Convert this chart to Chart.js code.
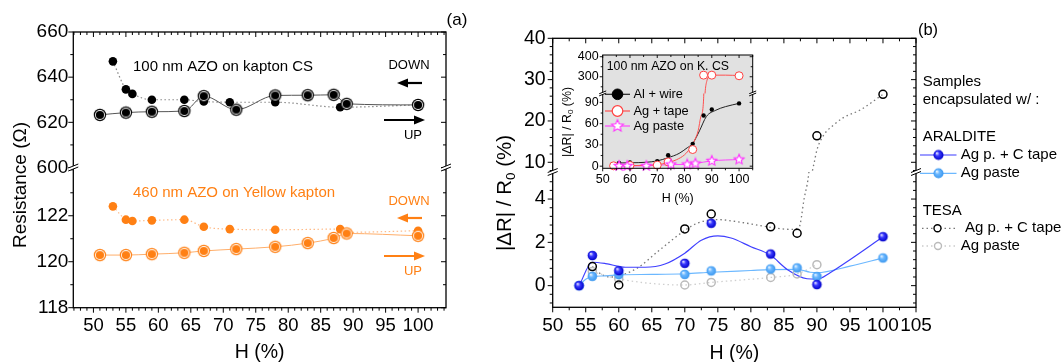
<!DOCTYPE html>
<html>
<head>
<meta charset="utf-8">
<script src="https://cdn.jsdelivr.net/npm/chart.js@4.4.0/dist/chart.umd.min.js"></script>
<style>
  body { margin: 0; background: #fff; width: 1063px; height: 362px; overflow: hidden; position: relative; }
  canvas { position: absolute; left: 0; top: 0; }
</style>
</head>
<body>
<canvas id="chartA" width="1063" height="362"></canvas>
<canvas id="chartB" width="1063" height="362"></canvas>
<canvas id="chartInset" width="1063" height="362"></canvas>
<script>
// ---------- panel (a): resistance vs humidity ----------
var hUpCS = [51, 55, 59, 64, 67, 72, 78, 83, 87, 89, 100];
var rUpCS = [623.3, 624.3, 624.7, 625.0, 631.6, 625.6, 631.9, 632.0, 632.2, 628.2, 627.7];
var hDownCS = [53, 55, 56, 59, 64, 67, 71, 78, 88, 100];
var rDownCS = [647.0, 634.6, 632.6, 630.0, 630.0, 629.2, 628.9, 628.9, 626.7, 627.7];
var hUpYellow = [51, 55, 59, 64, 67, 72, 78, 83, 87, 89, 100];
var rUpYellow = [120.29, 120.29, 120.33, 120.39, 120.47, 120.55, 120.65, 120.81, 121.03, 121.23, 121.13];
var hDownYellow = [53, 55, 56, 59, 64, 67, 71, 78, 88, 89, 100];
var rDownYellow = [122.41, 121.83, 121.77, 121.80, 121.83, 121.52, 121.42, 121.39, 121.42, 121.28, 121.35];
var aTicksX = [50, 55, 60, 65, 70, 75, 80, 85, 90, 95, 100];
var aTicksTop = [600, 620, 640, 660];
var aTicksBot = [118, 120, 122];

// ---------- panel (b): |dR|/R0 vs humidity ----------
var hAralTape = [54, 56, 60, 70, 74, 83, 90, 100];
var vAralTape = [0, 1.39, 0.69, 1.03, 2.88, 1.46, 0.05, 2.26];
var hAralPaste = [54, 56, 60, 70, 74, 83, 87, 90, 100];
var vAralPaste = [0, 0.43, 0.51, 0.52, 0.68, 0.77, 0.82, 0.42, 1.28];
var hTesaTape = [56, 60, 70, 74, 83, 87, 90, 100];
var vTesaTape = [0.88, 0.03, 2.62, 3.31, 2.72, 2.42, 16.4, 26.45];
var hTesaPaste = [56, 60, 70, 74, 83, 87, 90];
var vTesaPaste = [0.65, 0.31, 0.03, 0.15, 0.38, 0.54, 0.97];
// smoothed curves
var hAralTapeFit = [54, 56, 58, 61, 64, 67, 70, 72.5, 75, 77, 80, 83, 85.5, 88.5, 90, 92, 95, 100];
var vAralTapeFit = [0, 1.08, 1.02, 0.85, 0.85, 1.0, 1.5, 2.1, 2.3, 2.2, 1.8, 1.4, 0.75, 0.32, 0.3, 0.6, 1.2, 2.26];
var hAralPasteFit = [54, 55, 56, 58, 60, 65, 70, 74, 80, 83, 87, 89, 90, 95, 100];
var vAralPasteFit = [0, 0.3, 0.42, 0.45, 0.5, 0.52, 0.55, 0.62, 0.7, 0.74, 0.75, 0.62, 0.6, 0.9, 1.28];
var hTesaTapeFit = [56, 57.5, 59, 61, 63, 66, 70, 72, 75, 78, 81, 84, 86, 87.3, 88, 89, 89.6, 90, 91, 92.5, 94, 96.6, 100];
var vTesaTapeFit = [0.88, 0.5, 0.4, 0.55, 0.85, 1.6, 2.55, 2.9, 3.05, 2.95, 2.8, 2.65, 2.6, 2.7, 3.9, 6, 10, 13, 16.5, 19, 20.8, 22.7, 26.45];
var bTicksX = [50, 55, 60, 65, 70, 75, 80, 85, 90, 95, 100, 105];
var bTicksTop = [10, 20, 30, 40];
var bTicksBot = [0, 2, 4];

// ---------- inset: 100 nm AZO on K. CS ----------
var hAlWire = [56, 60, 70, 74, 83, 87, 90, 100];
var vAlWire = [4.7, 5.2, 7.1, 15.5, 31.5, 71.6, 80, 88.6];
var hAgTape = [54, 60, 70, 74, 83, 87, 90, 100];
var vAgTape = [0.5, 1, 1.5, 6, 23.5, 308, 308, 305];
var hAgPaste = [56, 59, 66, 75, 81, 84, 90, 100];
var vAgPaste = [0.4, 0.4, 0.4, 2.4, 2.4, 3.8, 7.5, 9.4];
var hAlWireFit = [56, 60, 66, 70, 74, 78, 81, 83, 85.5, 88, 91.5, 95, 100];
var vAlWireFit = [4.5, 4.8, 5.5, 7.5, 12, 18, 26, 32, 50, 70, 79, 84, 88.6];
var hAgTapeFit = [54, 60, 66, 70, 74, 77, 80, 82, 83.5, 85, 86, 87, 87.6, 88.2, 89, 90, 95, 100];
var vAgTapeFit = [0.3, 0.7, 1.3, 2.2, 5, 9, 16, 25, 35, 50, 70, 95, 230, 280, 302, 308, 308, 306];
var iTicksX = [50, 60, 70, 80, 90, 100];
var iTicksTop = [300, 400];
var iTicksBot = [0, 30, 60, 90];

var FONT = '"Liberation Sans", Arial, Helvetica, sans-serif';
var ORANGE = '#ff8014';

Chart.defaults.font.family = FONT;
Chart.defaults.color = '#000';
Chart.defaults.animation = false;
Chart.defaults.responsive = false;
Chart.defaults.plugins.legend.display = false;
Chart.defaults.plugins.tooltip.enabled = false;

function font(size) { return size + 'px ' + FONT; }

function pts(xs, ys) {
    return xs.map(function (x, i) { return { x: x, y: ys[i] }; });
}

// ---- marker images ----
function newMarker(r) {
    var c = document.createElement('canvas');
    var s = Math.ceil(2 * r + 3);
    c.width = s;
    c.height = s;
    return c;
}

function ringMarker(color, r) {
    var c = newMarker(r), g = c.getContext('2d'), m = c.width / 2;
    g.fillStyle = color;
    g.beginPath(); g.arc(m, m, r, 0, 2 * Math.PI); g.fill();
    g.fillStyle = '#fff';
    g.beginPath(); g.arc(m, m, r - 1.2, 0, 2 * Math.PI); g.fill();
    g.fillStyle = color;
    g.beginPath(); g.arc(m, m, r - 2.1, 0, 2 * Math.PI); g.fill();
    return c;
}

function sphereMarker(light, mid, dark, r) {
    var c = newMarker(r), g = c.getContext('2d'), m = c.width / 2;
    var grd = g.createRadialGradient(m - r * 0.35, m - r * 0.4, r * 0.05, m, m, r);
    grd.addColorStop(0, light);
    grd.addColorStop(0.4, mid);
    grd.addColorStop(1, dark);
    g.fillStyle = grd;
    g.beginPath(); g.arc(m, m, r, 0, 2 * Math.PI); g.fill();
    return c;
}

function starMarker(color, r) {
    var c = newMarker(r), g = c.getContext('2d'), m = c.width / 2;
    g.beginPath();
    for (var i = 0; i < 10; i++) {
        var rr = i % 2 === 0 ? r : r * 0.45;
        var a = -Math.PI / 2 + i * Math.PI / 5;
        g.lineTo(m + rr * Math.cos(a), m + rr * Math.sin(a));
    }
    g.closePath();
    g.fillStyle = '#fff';
    g.fill();
    g.strokeStyle = color;
    g.lineWidth = 1.1;
    g.stroke();
    return c;
}

var mkUpCS = ringMarker('#000', 6.2);
var mkUpYellow = ringMarker(ORANGE, 6.2);
var mkAralTape = sphereMarker('#eef', '#3a3aff', '#0000c8', 4.8);
var mkAralPaste = sphereMarker('#eef7ff', '#6cb8ff', '#3b97ee', 4.8);
var mkAralTapeLeg = sphereMarker('#eef', '#3a3aff', '#0000c8', 5);
var mkAralPasteLeg = sphereMarker('#eef7ff', '#6cb8ff', '#3b97ee', 5);
var mkStar = starMarker('#ff33ff', 5.2);
var mkStarLeg = starMarker('#ff33ff', 6.2);

// ---- shared drawing helpers ----
function stepValues(min, max, step) {
    var out = [];
    var n0 = Math.ceil(min / step - 1e-6), n1 = Math.floor(max / step + 1e-6);
    for (var n = n0; n <= n1; n++) {
        out.push(n * step);
    }
    return out;
}

// ticks out on bottom/left, mirrored inward on top/right
function drawTicks(ctx, area, scale, major, minor, bigLen, smallLen) {
    var horiz = scale.isHorizontal();
    stepValues(scale.min, scale.max, minor).forEach(function (v) {
        var isMajor = Math.abs(v / major - Math.round(v / major)) < 1e-6;
        var len = isMajor ? bigLen : smallLen;
        var p = scale.getPixelForValue(v);
        ctx.beginPath();
        if (horiz) {
            ctx.moveTo(p, area.bottom); ctx.lineTo(p, area.bottom + len);
            ctx.moveTo(p, area.top); ctx.lineTo(p, area.top + len);
        } else {
            ctx.moveTo(area.left - len, p); ctx.lineTo(area.left, p);
            ctx.moveTo(area.right - len, p); ctx.lineTo(area.right, p);
        }
        ctx.stroke();
    });
}

// the short inset axes lose labels in Chart.js, so their labels are written here
function axisLabels(ctx, scale) {
    var opts = scale.options.ticks;
    scale.ticks.forEach(function (t) {
        text(ctx, String(t.value), scale.right - opts.padding, scale.getPixelForValue(t.value), opts.font.size, '#000', 'right');
    });
}

function drawFrame(ctx, area, lw) {
    ctx.lineWidth = lw;
    ctx.strokeStyle = '#000';
    ctx.strokeRect(area.left, area.top, area.right - area.left, area.bottom - area.top);
}

function drawBreak(ctx, x, y, s) {
    ctx.save();
    ctx.fillStyle = '#fff';
    ctx.beginPath();
    ctx.moveTo(x - 5 * s, y + 0.5 * s);
    ctx.lineTo(x + 5 * s, y - 3.5 * s);
    ctx.lineTo(x + 5 * s, y - 0.5 * s);
    ctx.lineTo(x - 5 * s, y + 3.5 * s);
    ctx.closePath();
    ctx.fill();
    ctx.strokeStyle = '#000';
    ctx.lineWidth = 1;
    ctx.beginPath();
    ctx.moveTo(x - 5 * s, y + 0.5 * s); ctx.lineTo(x + 5 * s, y - 3.5 * s);
    ctx.moveTo(x - 5 * s, y + 3.5 * s); ctx.lineTo(x + 5 * s, y - 0.5 * s);
    ctx.stroke();
    ctx.restore();
}

function text(ctx, str, x, y, size, color, align) {
    ctx.font = font(size);
    ctx.fillStyle = color || '#000';
    ctx.textAlign = align || 'left';
    ctx.textBaseline = 'middle';
    ctx.fillText(str, x, y);
}

function vtext(ctx, str, x, y, size) {
    ctx.save();
    ctx.translate(x, y);
    ctx.rotate(-Math.PI / 2);
    text(ctx, str, 0, 0, size, '#000', 'center');
    ctx.restore();
}

// |dR| / R0 (%) with a subscript 0, rotated
function deltaTitle(ctx, x, y, size) {
    var a = '|\u0394R| / R', b = '0', c = ' (%)';
    ctx.save();
    ctx.translate(x, y);
    ctx.rotate(-Math.PI / 2);
    ctx.font = font(size);
    var wa = ctx.measureText(a).width, wc = ctx.measureText(c).width;
    ctx.font = font(size * 0.65);
    var wb = ctx.measureText(b).width;
    var x0 = -(wa + wb + wc) / 2;
    text(ctx, a, x0, 0, size);
    text(ctx, b, x0 + wa, size * 0.3, size * 0.65);
    text(ctx, c, x0 + wa + wb, 0, size);
    ctx.restore();
}

function arrow(ctx, x0, x1, y, color) {
    var dir = x1 > x0 ? 1 : -1;
    ctx.strokeStyle = color;
    ctx.fillStyle = color;
    ctx.lineWidth = 2.2;
    ctx.beginPath(); ctx.moveTo(x0, y); ctx.lineTo(x1 - dir * 8, y); ctx.stroke();
    ctx.beginPath();
    ctx.moveTo(x1, y);
    ctx.lineTo(x1 - dir * 11, y - 4.5);
    ctx.lineTo(x1 - dir * 11, y + 4.5);
    ctx.closePath();
    ctx.fill();
}

function legendLine(ctx, x0, x1, y, color, dash) {
    ctx.save();
    ctx.strokeStyle = color;
    ctx.lineWidth = dash ? 1.3 : 1.2;
    ctx.setLineDash(dash || []);
    ctx.beginPath(); ctx.moveTo(x0, y); ctx.lineTo(x1, y); ctx.stroke();
    ctx.restore();
}

function openCircle(ctx, x, y, r, color, lw, fill) {
    ctx.beginPath();
    ctx.arc(x, y, r, 0, 2 * Math.PI);
    if (fill) { ctx.fillStyle = fill; ctx.fill(); }
    ctx.strokeStyle = color;
    ctx.lineWidth = lw;
    ctx.stroke();
}

function image(ctx, img, x, y) {
    ctx.drawImage(img, x - img.width / 2, y - img.height / 2);
}

// every dataset is clipped to the band of its own (stacked) y axis
var bandClip = {
    id: 'bandClip',
    beforeDatasetDraw: function (chart, args) {
        var ys = chart.scales[chart.data.datasets[args.index].yAxisID];
        var a = chart.chartArea, ctx = chart.ctx;
        var top = ys.top <= a.top + 0.5 ? ys.top - 12 : ys.top;
        var bottom = ys.bottom >= a.bottom - 0.5 ? ys.bottom + 12 : ys.bottom;
        ctx.save();
        ctx.beginPath();
        ctx.rect(a.left - 12, top, a.right - a.left + 24, bottom - top);
        ctx.clip();
    },
    afterDatasetDraw: function (chart) {
        chart.ctx.restore();
    }
};

function fixTicks(list) {
    return function (scale) {
        scale.ticks = list.map(function (v) { return { value: v, label: String(v) }; });
    };
}

function plainLabel(value) { return String(value); }

function xAxis(min, max, list, size, pad, height) {
    return {
        type: 'linear', position: 'bottom', min: min, max: max,
        grid: { display: false, drawTicks: false },
        border: { display: false },
        ticks: { font: { size: size }, padding: pad, autoSkip: false, maxRotation: 0, callback: plainLabel },
        afterBuildTicks: fixTicks(list),
        afterFit: function (s) { s.height = height; }
    };
}

function yAxis(stack, weight, min, max, list, size, pad, width, color) {
    return {
        type: 'linear', position: 'left', stack: stack, stackWeight: weight, min: min, max: max,
        grid: { display: false, drawTicks: false },
        border: { display: false },
        ticks: { font: { size: size }, padding: pad, autoSkip: false, callback: plainLabel, color: color || '#000' },
        afterBuildTicks: fixTicks(list),
        afterFit: function (s) { s.width = width; }
    };
}

function lineSet(xs, ys, axis, color, width, dash, order) {
    return {
        data: pts(xs, ys), yAxisID: axis, showLine: true, clip: false,
        borderColor: color, borderWidth: width, borderDash: dash || [],
        pointRadius: 0, cubicInterpolationMode: 'monotone', order: order
    };
}

function pointSet(xs, ys, axis, style, order) {
    var ds = { data: pts(xs, ys), yAxisID: axis, showLine: false, clip: false, order: order };
    for (var k in style) { ds[k] = style[k]; }
    return ds;
}

// ================= panel (a) =================
var panelA = {
    id: 'panelA',
    afterDraw: function (chart) {
        var ctx = chart.ctx, a = chart.chartArea, s = chart.scales;
        ctx.save();
        drawFrame(ctx, a, 1.3);
        ctx.lineWidth = 1;
        drawTicks(ctx, a, s.x, 5, 1, 5, 3);
        drawTicks(ctx, a, s.yTop, 20, 10, 5, 3);
        drawTicks(ctx, a, s.yBot, 2, 1, 5, 3);
        drawBreak(ctx, a.left, s.yBot.top, 1);
        drawBreak(ctx, a.right, s.yBot.top, 1);

        text(ctx, '100 nm AZO on kapton CS', 133, 67, 15);
        text(ctx, 'DOWN', 409, 65, 13, '#000', 'center');
        arrow(ctx, 422, 397, 83, '#000');
        arrow(ctx, 384, 425, 120, '#000');
        text(ctx, 'UP', 413, 135, 13, '#000', 'center');

        text(ctx, '460 nm AZO on Yellow kapton', 133, 193, 15, ORANGE);
        text(ctx, 'DOWN', 409, 201, 13, ORANGE, 'center');
        arrow(ctx, 422, 397, 218, ORANGE);
        arrow(ctx, 384, 425, 256, ORANGE);
        text(ctx, 'UP', 413, 271, 13, ORANGE, 'center');

        text(ctx, '(a)', 457, 20, 17, '#000', 'center');
        text(ctx, 'H (%)', (a.left + a.right) / 2, 353, 19.5, '#000', 'center');
        vtext(ctx, 'Resistance (\u03A9)', 21, 185, 19);
        ctx.restore();
    }
};

new Chart(document.getElementById('chartA'), {
    type: 'scatter',
    data: {
        datasets: [
            lineSet(hUpCS, rUpCS, 'yTop', '#555', 1, null, 10),
            lineSet(hDownCS, rDownCS, 'yTop', '#888', 1.2, [1.5, 2.5], 11),
            pointSet(hUpCS, rUpCS, 'yTop', { pointStyle: mkUpCS }, 1),
            pointSet(hDownCS, rDownCS, 'yTop', { pointStyle: 'circle', pointRadius: 4.3, pointBorderWidth: 0, pointBackgroundColor: '#000' }, 2),
            lineSet(hUpYellow, rUpYellow, 'yBot', '#ffae6a', 1, null, 10),
            lineSet(hDownYellow, rDownYellow, 'yBot', '#ffbb88', 1.2, [1.5, 2.5], 11),
            pointSet(hUpYellow, rUpYellow, 'yBot', { pointStyle: mkUpYellow }, 1),
            pointSet(hDownYellow, rDownYellow, 'yBot', { pointStyle: 'circle', pointRadius: 4.3, pointBorderWidth: 0, pointBackgroundColor: ORANGE }, 2)
        ]
    },
    options: {
        layout: { padding: { left: 0, top: 32, right: 617, bottom: 0 } },
        scales: {
            x: xAxis(46.9, 104.3, aTicksX, 18.5, 7, 54.3),
            // in a stack the first axis listed sits at the bottom
            yBot: yAxis('a', 140.2, 118, 124.1, aTicksBot, 19, 5, 73.3),
            yTop: yAxis('a', 135.5, 600, 660, aTicksTop, 19, 5, 73.3)
        }
    },
    plugins: [bandClip, panelA]
});

// ================= panel (b) =================
var panelB = {
    id: 'panelB',
    afterDraw: function (chart) {
        var ctx = chart.ctx, a = chart.chartArea, s = chart.scales;
        ctx.save();
        drawFrame(ctx, a, 1.3);
        ctx.lineWidth = 1;
        drawTicks(ctx, a, s.x, 5, 2.5, 5, 3);
        drawTicks(ctx, a, s.yTop, 10, 2, 5, 3);
        drawTicks(ctx, a, s.yBot, 2, 0.4, 5, 3);
        drawBreak(ctx, a.left, s.yBot.top, 1);
        drawBreak(ctx, a.right, s.yBot.top, 1);

        text(ctx, '(b)', 928, 30, 16.5, '#000', 'center');
        text(ctx, 'H (%)', (a.left + a.right) / 2, 354, 19.5, '#000', 'center');
        deltaTitle(ctx, 505, 193, 20.5);

        // legend
        var lx = 922.7;
        text(ctx, 'Samples', lx, 82, 15);
        text(ctx, 'encapsulated w/ :', lx, 100, 15);
        text(ctx, 'ARALDITE', lx, 137, 15);
        legendLine(ctx, 920, 956.5, 155, '#3a3aff');
        image(ctx, mkAralTapeLeg, 938.5, 155);
        text(ctx, 'Ag p. + C tape', 960.7, 155, 15);
        legendLine(ctx, 920, 956.5, 173.3, '#6cb8ff');
        image(ctx, mkAralPasteLeg, 938.5, 173.3);
        text(ctx, 'Ag paste', 960.7, 173.3, 15);
        text(ctx, 'TESA', lx, 210.7, 15);
        legendLine(ctx, 922, 955, 228.3, '#777', [1.5, 3]);
        openCircle(ctx, 937.5, 228.3, 3.5, '#000', 1.4, '#fff');
        text(ctx, 'Ag p. + C tape', 965, 228.3, 15);
        legendLine(ctx, 922, 955, 246, '#ccc', [1.5, 3]);
        openCircle(ctx, 938, 246, 3.5, '#bbb', 1.4, '#fff');
        text(ctx, 'Ag paste', 960.7, 246, 15);
        ctx.restore();
    }
};

var tesaTapeStyle = { pointStyle: 'circle', pointRadius: 4, pointBorderWidth: 1.5, pointBorderColor: '#000', pointBackgroundColor: 'rgba(255,255,255,0)' };

new Chart(document.getElementById('chartB'), {
    type: 'scatter',
    data: {
        datasets: [
            lineSet(hTesaPaste, vTesaPaste, 'yBot', '#cfcfcf', 1.3, [1.5, 3], 14),
            lineSet(hTesaTapeFit, vTesaTapeFit, 'yBot', '#777', 1.3, [1.5, 3], 13),
            lineSet(hTesaTapeFit, vTesaTapeFit, 'yTop', '#777', 1.3, [1.5, 3], 13),
            lineSet(hAralPasteFit, vAralPasteFit, 'yBot', '#6cb8ff', 1.2, null, 12),
            lineSet(hAralTapeFit, vAralTapeFit, 'yBot', '#4040ff', 1.2, null, 11),
            pointSet(hTesaPaste, vTesaPaste, 'yBot', { pointStyle: 'circle', pointRadius: 4, pointBorderWidth: 1.5, pointBorderColor: '#bbb', pointBackgroundColor: 'rgba(255,255,255,0)' }, 5),
            pointSet(hTesaTape, vTesaTape, 'yBot', tesaTapeStyle, 4),
            pointSet(hTesaTape, vTesaTape, 'yTop', tesaTapeStyle, 4),
            pointSet(hAralPaste, vAralPaste, 'yBot', { pointStyle: mkAralPaste }, 2),
            pointSet(hAralTape, vAralTape, 'yBot', { pointStyle: mkAralTape }, 1)
        ]
    },
    options: {
        layout: { padding: { left: 480, top: 38.3, right: 147, bottom: 0 } },
        scales: {
            x: xAxis(50, 105, bTicksX, 19, 7, 54.7),
            yBot: yAxis('b', 135.3, -1, 5.25, bTicksBot, 19.5, 7, 72.7),
            yTop: yAxis('b', 133.7, 7.65, 40, bTicksTop, 19.5, 7, 72.7)
        }
    },
    plugins: [bandClip, panelB]
});

// ================= inset =================
var inset = {
    id: 'inset',
    beforeDatasetsDraw: function (chart) {
        var ctx = chart.ctx, a = chart.chartArea;
        ctx.save();
        ctx.fillStyle = '#e1e1e1';
        ctx.fillRect(a.left, a.top, a.right - a.left, a.bottom - a.top);
        ctx.restore();
    },
    afterDraw: function (chart) {
        var ctx = chart.ctx, a = chart.chartArea, s = chart.scales;
        ctx.save();
        drawFrame(ctx, a, 1);
        ctx.lineWidth = 0.9;
        drawTicks(ctx, a, s.x, 10, 5, 3, 2);
        drawTicks(ctx, a, s.yTop, 100, 50, 3, 2);
        drawTicks(ctx, a, s.yBot, 30, 15, 3, 2);
        drawBreak(ctx, a.left, s.yBot.top, 0.7);
        drawBreak(ctx, a.right, s.yBot.top, 0.7);
        axisLabels(ctx, s.yBot);
        axisLabels(ctx, s.yTop);

        text(ctx, '100 nm AZO on K. CS', 606.7, 67, 12.3);
        legendLine(ctx, 605, 630, 94.3, '#222');
        openCircle(ctx, 617.5, 94.3, 5.3, '#000', 1, '#000');
        text(ctx, 'Al + wire', 633.5, 94.3, 12.8);
        legendLine(ctx, 605, 630, 111, '#ff5050');
        openCircle(ctx, 617.5, 111, 5.3, '#ff4040', 1.2, '#fff');
        text(ctx, 'Ag + tape', 633.5, 111, 12.8);
        legendLine(ctx, 605, 630, 126, '#ff44ff');
        image(ctx, mkStarLeg, 617.5, 126);
        text(ctx, 'Ag paste', 633.5, 126, 12.8);

        text(ctx, 'H (%)', (a.left + a.right) / 2, 199, 12.5, '#000', 'center');
        deltaTitle(ctx, 567.5, 122, 12.4);
        ctx.restore();
    }
};

var agTapeStyle = { pointStyle: 'circle', pointRadius: 4, pointBorderWidth: 1, pointBorderColor: '#ff4040', pointBackgroundColor: '#fff' };

new Chart(document.getElementById('chartInset'), {
    type: 'scatter',
    data: {
        datasets: [
            lineSet(hAgPaste, vAgPaste, 'yBot', '#ff44ff', 1, null, 12),
            lineSet(hAlWireFit, vAlWireFit, 'yBot', '#222', 1, null, 11),
            lineSet(hAgTapeFit, vAgTapeFit, 'yBot', '#ff5050', 1, null, 10),
            lineSet(hAgTapeFit, vAgTapeFit, 'yTop', '#ff5050', 1, null, 10),
            pointSet(hAlWire, vAlWire, 'yBot', { pointStyle: 'circle', pointRadius: 2.2, pointBorderWidth: 0, pointBackgroundColor: '#000' }, 3),
            pointSet(hAgTape, vAgTape, 'yBot', agTapeStyle, 2),
            pointSet(hAgTape, vAgTape, 'yTop', agTapeStyle, 2),
            pointSet(hAgPaste, vAgPaste, 'yBot', { pointStyle: mkStar }, 1)
        ]
    },
    options: {
        layout: { padding: { left: 560, top: 55, right: 310.3, bottom: 163.7 } },
        scales: {
            x: xAxis(50, 105, iTicksX, 12.5, 3.5, 30),
            yBot: yAxis('i', 74.7, -3, 102.7, iTicksBot, 12.5, 4, 42.7, 'rgba(0,0,0,0)'),
            yTop: yAxis('i', 38.3, 217, 408.5, iTicksTop, 12.5, 4, 42.7, 'rgba(0,0,0,0)')
        }
    },
    plugins: [bandClip, inset]
});
</script>
</body>
</html>
